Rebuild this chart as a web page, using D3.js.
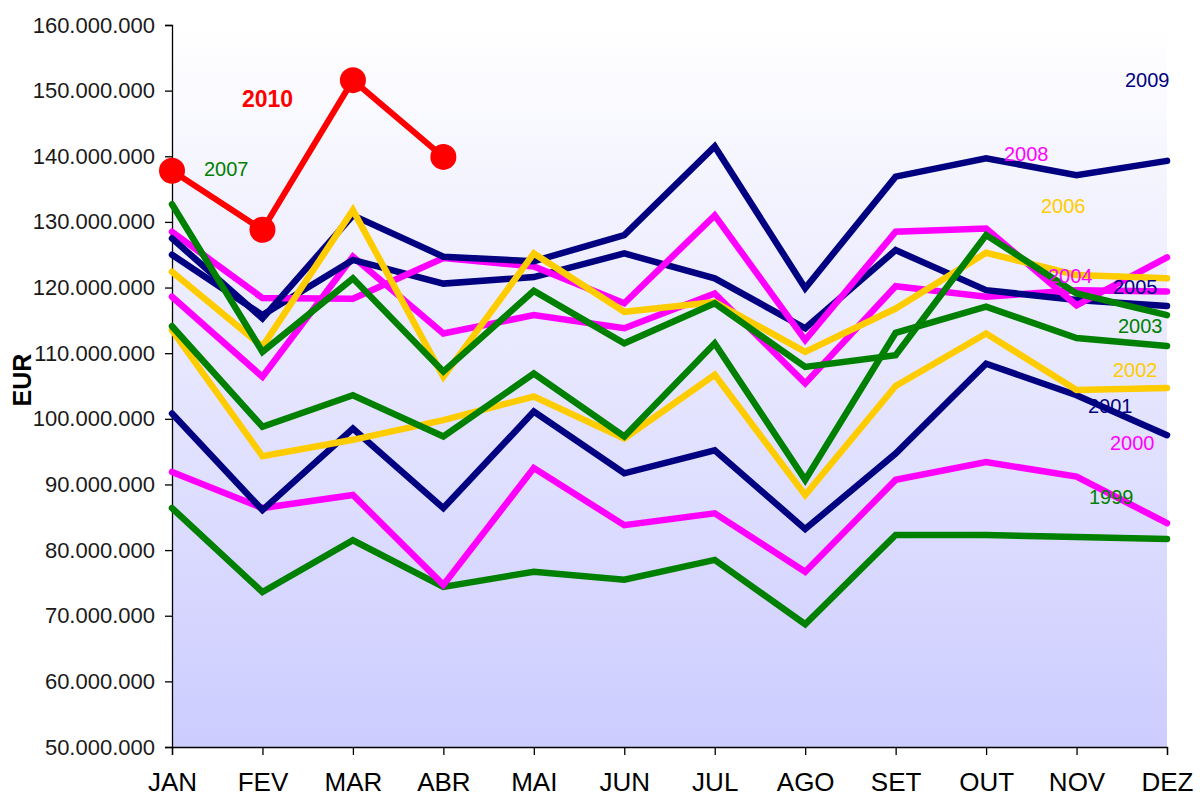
<!DOCTYPE html>
<html>
<head>
<meta charset="utf-8">
<script src="https://cdnjs.cloudflare.com/ajax/libs/d3/7.8.5/d3.min.js"></script>
<style>
  html, body { margin: 0; padding: 0; background: #ffffff; }
  svg { display: block; }
  text { font-family: Arial, "Liberation Sans", sans-serif; }
</style>
</head>
<body>
<svg id="chart" width="1200" height="798"></svg>
<script>
// ---------- DATA (values in millions of EUR) ----------
const months = ["JAN","FEV","MAR","ABR","MAI","JUN","JUL","AGO","SET","OUT","NOV","DEZ"];
const yTicks = [50,60,70,80,90,100,110,120,130,140,150,160];

const y1999 = [86.4, 73.6, 81.5, 74.4, 76.7, 75.5, 78.5, 68.7, 82.3, 82.3, 82.0, 81.7];
const y2000 = [91.9, 86.4, 88.4, 74.7, 92.5, 83.8, 85.6, 76.7, 90.7, 93.4, 91.2, 84.1];
const y2001 = [100.8, 86.1, 98.5, 86.4, 101.1, 91.7, 95.2, 83.2, 94.7, 108.4, 103.6, 97.5];
const y2002 = [113.5, 94.3, 96.8, 99.8, 103.4, 97.0, 106.7, 88.4, 105.0, 113.0, 104.4, 104.7];
const y2003 = [114.1, 98.8, 103.6, 97.3, 106.9, 97.3, 111.5, 90.7, 113.1, 117.1, 112.3, 111.1];
const y2004 = [118.6, 106.4, 124.7, 113.0, 115.8, 113.8, 119.1, 105.4, 120.2, 118.6, 119.6, 119.4];
const y2005 = [125.0, 115.8, 124.2, 120.6, 121.6, 125.2, 121.4, 113.8, 125.7, 119.6, 118.1, 117.2];
const y2006 = [122.4, 111.0, 131.8, 106.4, 125.2, 116.3, 117.8, 110.2, 116.8, 125.3, 121.9, 121.4];
const y2007 = [132.7, 110.2, 121.4, 107.2, 119.5, 111.5, 117.6, 107.9, 109.7, 128.0, 119.1, 115.8];
const y2008 = [128.5, 118.4, 118.3, 124.5, 123.2, 117.6, 131.0, 112.0, 128.5, 129.0, 117.3, 124.6];
const y2009 = [127.5, 115.3, 131.0, 124.7, 124.0, 128.0, 141.5, 119.9, 136.9, 139.7, 137.1, 139.3];
const y2010 = [137.8, 128.8, 151.6, 139.9];

const seriesNames  = ["1999","2000","2001","2002","2003","2004","2005","2006","2007","2008","2009","2010"];
const seriesValues = [y1999, y2000, y2001, y2002, y2003, y2004, y2005, y2006, y2007, y2008, y2009, y2010];

// ---------- STYLE / LAYOUT ----------
const colorOf = {
  "1999":"#008000","2003":"#008000","2007":"#008000",
  "2000":"#ff00ff","2004":"#ff00ff","2008":"#ff00ff",
  "2001":"#000080","2005":"#000080","2009":"#000080",
  "2002":"#ffcc00","2006":"#ffcc00",
  "2010":"#ff0000"
};
// annotation placement (pixels, left x / baseline y)
const labelPlace = {
  "2009":[1125,87], "2008":[1004,161], "2007":[204,176], "2006":[1041,213],
  "2004":[1048,283], "2005":[1113,294], "2003":[1118,333], "2002":[1113,377],
  "2001":[1088,413], "2000":[1110,450], "1999":[1089,504], "2010":[242,107]
};
const drawOrder = ["1999","2000","2001","2002","2003","2004","2005","2008","2009","2006","2007","2010"];

const plot = {left:172, right:1167, top:25, bottom:747};

const svg = d3.select("#chart");

const x = d3.scalePoint().domain(months).range([plot.left, plot.right]);
const y = d3.scaleLinear().domain([50e6, 160e6]).range([plot.bottom, plot.top]);

const locale = d3.formatLocale({decimal:",", thousands:".", grouping:[3], currency:["",""]});
const fmt = locale.format(",d");

// background gradient
const defs = svg.append("defs");
const grad = defs.append("linearGradient").attr("id","bg").attr("x1",0).attr("y1",0).attr("x2",0).attr("y2",1);
grad.append("stop").attr("offset","0%").attr("stop-color","#ffffff");
grad.append("stop").attr("offset","100%").attr("stop-color","#ccccff");

svg.append("rect")
  .attr("x", plot.left).attr("y", plot.top)
  .attr("width", plot.right - plot.left).attr("height", plot.bottom - plot.top)
  .attr("fill","url(#bg)");

// axes
const yAxis = d3.axisLeft(y).tickValues(yTicks.map(v => v*1e6)).tickFormat(fmt).tickSize(7).tickPadding(10);
const gy = svg.append("g").attr("transform",`translate(${plot.left},0)`).call(yAxis);
gy.select(".domain").attr("stroke","#000").attr("stroke-width",1.3);
gy.selectAll(".tick line").attr("stroke","#000").attr("stroke-width",1.3);
gy.selectAll(".tick text").attr("font-size","22px").attr("fill","#1a1a1a")
  .attr("font-family","Arial, 'Liberation Sans', sans-serif");

const xAxis = d3.axisBottom(x).tickSize(8).tickPadding(18);
const gx = svg.append("g").attr("transform",`translate(0,${plot.bottom})`).call(xAxis);
gx.select(".domain").attr("stroke","#000").attr("stroke-width",1.3);
gx.selectAll(".tick line").attr("stroke","#000").attr("stroke-width",1.3);
gx.selectAll(".tick text").attr("font-size","26px").attr("fill","#000")
  .attr("font-family","Arial, 'Liberation Sans', sans-serif");

// y-axis title
svg.append("text")
  .attr("transform","translate(31,380) rotate(-90)")
  .attr("text-anchor","middle")
  .attr("font-size","25px").attr("font-weight","bold").attr("fill","#000")
  .text("EUR");

// lines
const line = d3.line().x((d,i) => x(months[i])).y(d => y(d*1e6));
const gLines = svg.append("g");
drawOrder.forEach(name => {
  const vals = seriesValues[seriesNames.indexOf(name)];
  gLines.append("path")
    .datum(vals)
    .attr("d", line)
    .attr("fill","none")
    .attr("stroke", colorOf[name])
    .attr("stroke-width", name === "2010" ? 6 : 6.5)
    .attr("stroke-linejoin","miter")
    .attr("stroke-linecap","round");
  if (name === "2010") {
    gLines.selectAll(null).data(vals).enter().append("circle")
      .attr("cx",(d,i) => x(months[i]))
      .attr("cy",d => y(d*1e6))
      .attr("r",13)
      .attr("fill",colorOf[name]);
  }
});

// year labels
seriesNames.forEach(name => {
  const p = labelPlace[name];
  svg.append("text")
    .attr("x", p[0]).attr("y", p[1])
    .attr("font-size", name === "2010" ? "23px" : "20px")
    .attr("font-weight", name === "2010" ? "bold" : "normal")
    .attr("fill", colorOf[name])
    .text(name);
});
</script>
</body>
</html>
